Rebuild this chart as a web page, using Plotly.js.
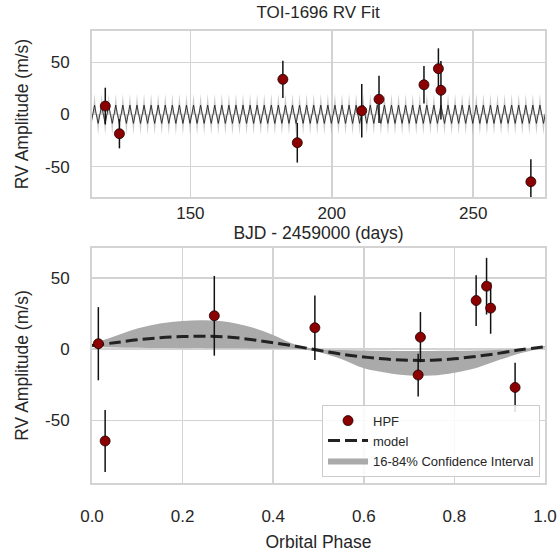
<!DOCTYPE html>
<html>
<head>
<meta charset="utf-8">
<script src="https://cdn.plot.ly/plotly-3.0.1.min.js"></script>
<style>html,body{margin:0;padding:0;background:#fff;}#chart{width:560px;height:557px;}</style>
</head>
<body>
<div id="chart"></div>
<script>
// ---- Top panel: observations ----
const obsDays = [119.9,124.9,182.7,187.8,210.6,216.7,232.6,237.7,238.6,270.4];
const obsRV   = [8.1,-18.4,33.7,-27,3.6,14.6,28.5,43.9,23.2,-64.4];
const obsErr  = [17.6,14,17.8,19,25.6,22.6,18,19.5,28,21.5];

// ---- Top panel: model curve (trough, zero, peak, zero ...) ----
const modelDays = [
114.86,115.48,116.11,116.73,117.36,117.98,118.61,119.23,119.86,120.48,121.11,121.73,122.36,122.98,123.61,124.23,
124.86,125.48,126.11,126.73,127.36,127.98,128.61,129.23,129.86,130.48,131.11,131.73,132.36,132.98,133.61,134.23,
134.86,135.48,136.11,136.73,137.36,137.98,138.61,139.23,139.86,140.48,141.11,141.73,142.36,142.98,143.61,144.23,
144.86,145.48,146.11,146.73,147.36,147.98,148.61,149.23,149.86,150.48,151.11,151.73,152.36,152.98,153.61,154.23,
154.86,155.48,156.11,156.73,157.36,157.98,158.61,159.23,159.86,160.48,161.11,161.73,162.36,162.98,163.61,164.23,
164.86,165.48,166.11,166.73,167.36,167.98,168.61,169.23,169.86,170.48,171.11,171.73,172.36,172.98,173.61,174.23,
174.86,175.48,176.11,176.73,177.36,177.98,178.61,179.23,179.86,180.48,181.11,181.73,182.36,182.98,183.61,184.23,
184.86,185.48,186.11,186.73,187.36,187.98,188.61,189.23,189.86,190.48,191.11,191.73,192.36,192.98,193.61,194.23,
194.86,195.48,196.11,196.73,197.36,197.98,198.61,199.23,199.86,200.48,201.11,201.73,202.36,202.98,203.61,204.23,
204.86,205.48,206.11,206.73,207.36,207.98,208.61,209.23,209.86,210.48,211.11,211.73,212.36,212.98,213.61,214.23,
214.86,215.48,216.11,216.73,217.36,217.98,218.61,219.23,219.86,220.48,221.11,221.73,222.36,222.98,223.61,224.23,
224.86,225.48,226.11,226.73,227.36,227.98,228.61,229.23,229.86,230.48,231.11,231.73,232.36,232.98,233.61,234.23,
234.86,235.48,236.11,236.73,237.36,237.98,238.61,239.23,239.86,240.48,241.11,241.73,242.36,242.98,243.61,244.23,
244.86,245.48,246.11,246.73,247.36,247.98,248.61,249.23,249.86,250.48,251.11,251.73,252.36,252.98,253.61,254.23,
254.86,255.48,256.11,256.73,257.36,257.98,258.61,259.23,259.86,260.48,261.11,261.73,262.36,262.98,263.61,264.23,
264.86,265.48,266.11,266.73,267.36,267.98,268.61,269.23,269.86,270.48,271.11,271.73,272.36,272.98,273.61,274.23,
274.86,275.48,276.11,276.73];
const modelRV = [
-8.5,0,9,0,-8.5,0,9,0,-8.5,0,9,0,-8.5,0,9,0,
-8.5,0,9,0,-8.5,0,9,0,-8.5,0,9,0,-8.5,0,9,0,
-8.5,0,9,0,-8.5,0,9,0,-8.5,0,9,0,-8.5,0,9,0,
-8.5,0,9,0,-8.5,0,9,0,-8.5,0,9,0,-8.5,0,9,0,
-8.5,0,9,0,-8.5,0,9,0,-8.5,0,9,0,-8.5,0,9,0,
-8.5,0,9,0,-8.5,0,9,0,-8.5,0,9,0,-8.5,0,9,0,
-8.5,0,9,0,-8.5,0,9,0,-8.5,0,9,0,-8.5,0,9,0,
-8.5,0,9,0,-8.5,0,9,0,-8.5,0,9,0,-8.5,0,9,0,
-8.5,0,9,0,-8.5,0,9,0,-8.5,0,9,0,-8.5,0,9,0,
-8.5,0,9,0,-8.5,0,9,0,-8.5,0,9,0,-8.5,0,9,0,
-8.5,0,9,0,-8.5,0,9,0,-8.5,0,9,0,-8.5,0,9,0,
-8.5,0,9,0,-8.5,0,9,0,-8.5,0,9,0,-8.5,0,9,0,
-8.5,0,9,0,-8.5,0,9,0,-8.5,0,9,0,-8.5,0,9,0,
-8.5,0,9,0,-8.5,0,9,0,-8.5,0,9,0,-8.5,0,9,0,
-8.5,0,9,0,-8.5,0,9,0,-8.5,0,9,0,-8.5,0,9,0,
-8.5,0,9,0,-8.5,0,9,0,-8.5,0,9,0,-8.5,0,9,0,
-8.5,0,9,0];
const modelLo = [
-19.5,-0.5,1,-0.5,-19.5,-0.5,1,-0.5,-19.5,-0.5,1,-0.5,-19.5,-0.5,1,-0.5,
-19.5,-0.5,1,-0.5,-19.5,-0.5,1,-0.5,-19.5,-0.5,1,-0.5,-19.5,-0.5,1,-0.5,
-19.5,-0.5,1,-0.5,-19.5,-0.5,1,-0.5,-19.5,-0.5,1,-0.5,-19.5,-0.5,1,-0.5,
-19.5,-0.5,1,-0.5,-19.5,-0.5,1,-0.5,-19.5,-0.5,1,-0.5,-19.5,-0.5,1,-0.5,
-19.5,-0.5,1,-0.5,-19.5,-0.5,1,-0.5,-19.5,-0.5,1,-0.5,-19.5,-0.5,1,-0.5,
-19.5,-0.5,1,-0.5,-19.5,-0.5,1,-0.5,-19.5,-0.5,1,-0.5,-19.5,-0.5,1,-0.5,
-19.5,-0.5,1,-0.5,-19.5,-0.5,1,-0.5,-19.5,-0.5,1,-0.5,-19.5,-0.5,1,-0.5,
-19.5,-0.5,1,-0.5,-19.5,-0.5,1,-0.5,-19.5,-0.5,1,-0.5,-19.5,-0.5,1,-0.5,
-19.5,-0.5,1,-0.5,-19.5,-0.5,1,-0.5,-19.5,-0.5,1,-0.5,-19.5,-0.5,1,-0.5,
-19.5,-0.5,1,-0.5,-19.5,-0.5,1,-0.5,-19.5,-0.5,1,-0.5,-19.5,-0.5,1,-0.5,
-19.5,-0.5,1,-0.5,-19.5,-0.5,1,-0.5,-19.5,-0.5,1,-0.5,-19.5,-0.5,1,-0.5,
-19.5,-0.5,1,-0.5,-19.5,-0.5,1,-0.5,-19.5,-0.5,1,-0.5,-19.5,-0.5,1,-0.5,
-19.5,-0.5,1,-0.5,-19.5,-0.5,1,-0.5,-19.5,-0.5,1,-0.5,-19.5,-0.5,1,-0.5,
-19.5,-0.5,1,-0.5,-19.5,-0.5,1,-0.5,-19.5,-0.5,1,-0.5,-19.5,-0.5,1,-0.5,
-19.5,-0.5,1,-0.5,-19.5,-0.5,1,-0.5,-19.5,-0.5,1,-0.5,-19.5,-0.5,1,-0.5,
-19.5,-0.5,1,-0.5,-19.5,-0.5,1,-0.5,-19.5,-0.5,1,-0.5,-19.5,-0.5,1,-0.5,
-19.5,-0.5,1,-0.5];
const modelHi = [
-1,0.5,20,0.5,-1,0.5,20,0.5,-1,0.5,20,0.5,-1,0.5,20,0.5,
-1,0.5,20,0.5,-1,0.5,20,0.5,-1,0.5,20,0.5,-1,0.5,20,0.5,
-1,0.5,20,0.5,-1,0.5,20,0.5,-1,0.5,20,0.5,-1,0.5,20,0.5,
-1,0.5,20,0.5,-1,0.5,20,0.5,-1,0.5,20,0.5,-1,0.5,20,0.5,
-1,0.5,20,0.5,-1,0.5,20,0.5,-1,0.5,20,0.5,-1,0.5,20,0.5,
-1,0.5,20,0.5,-1,0.5,20,0.5,-1,0.5,20,0.5,-1,0.5,20,0.5,
-1,0.5,20,0.5,-1,0.5,20,0.5,-1,0.5,20,0.5,-1,0.5,20,0.5,
-1,0.5,20,0.5,-1,0.5,20,0.5,-1,0.5,20,0.5,-1,0.5,20,0.5,
-1,0.5,20,0.5,-1,0.5,20,0.5,-1,0.5,20,0.5,-1,0.5,20,0.5,
-1,0.5,20,0.5,-1,0.5,20,0.5,-1,0.5,20,0.5,-1,0.5,20,0.5,
-1,0.5,20,0.5,-1,0.5,20,0.5,-1,0.5,20,0.5,-1,0.5,20,0.5,
-1,0.5,20,0.5,-1,0.5,20,0.5,-1,0.5,20,0.5,-1,0.5,20,0.5,
-1,0.5,20,0.5,-1,0.5,20,0.5,-1,0.5,20,0.5,-1,0.5,20,0.5,
-1,0.5,20,0.5,-1,0.5,20,0.5,-1,0.5,20,0.5,-1,0.5,20,0.5,
-1,0.5,20,0.5,-1,0.5,20,0.5,-1,0.5,20,0.5,-1,0.5,20,0.5,
-1,0.5,20,0.5,-1,0.5,20,0.5,-1,0.5,20,0.5,-1,0.5,20,0.5,
-1,0.5,20,0.5];

// ---- Bottom panel: phase-folded observations ----
const obsPhase  = [0.014,0.029,0.27,0.492,0.725,0.72,0.848,0.871,0.88,0.934];
const foldRV    = [3.8,-64.5,23.4,15,8.4,-18.2,34.1,44.2,28.8,-26.9];
const foldErr   = [25.7,21.7,28,22.7,17.6,15,17.8,19.9,18,17.3];

// ---- Bottom panel: phase model and confidence interval ----
const phaseGrid = [0,0.05,0.1,0.15,0.2,0.25,0.3,0.35,0.4,0.45,0.5,0.55,0.6,0.65,0.7,0.75,0.8,0.85,0.9,0.95,1.0];
const phaseModel = [2.5,4.5,6.5,8,8.8,9,8.5,6.8,4.5,2,-0.8,-3.5,-5.5,-7,-7.8,-7.8,-6.8,-5,-2.8,-0.3,1.7];
const phaseLo = [1.5,1.2,1,0.8,0.7,0.7,0.6,0.5,0.4,0.2,-2,-7,-13.5,-16.5,-18.5,-18.5,-16.5,-13,-7.5,-2.5,1.2];
const phaseHi = [3.5,9,14.5,18,19.8,20.3,19,15.5,10,3,-0.1,-0.6,-0.9,-1.1,-1.3,-1.3,-1.2,-1,-0.5,0.2,2.2];

const yTicks = [-50,0,50];
const yTickText = ['-50','0','50'];
const xTicksTop = [150,200,250];
const xTicksBot = [0,0.2,0.4,0.6,0.8,1.0];
const xTickTextBot = ['0.0','0.2','0.4','0.6','0.8','1.0'];

const FONT = 'Liberation Sans, Arial, sans-serif';
const TXT = '#262626';
const GRID = '#d3d3d3';
const TICKSIZE = 17;
const LABSIZE = 17.5;

const traces = [
  {x: modelDays, y: modelLo, xaxis:'x', yaxis:'y', mode:'lines', line:{width:0, color:'rgba(0,0,0,0)'}, hoverinfo:'skip', showlegend:false},
  {x: modelDays, y: modelHi, xaxis:'x', yaxis:'y', mode:'lines', line:{width:0, color:'rgba(0,0,0,0)'}, fill:'tonexty', fillcolor:'rgba(140,140,140,0.45)', hoverinfo:'skip', showlegend:false},
  {x: modelDays, y: modelRV, xaxis:'x', yaxis:'y', mode:'lines', line:{width:1, color:'rgba(30,30,30,0.85)'}, showlegend:false},
  {x: obsDays, y: obsRV, xaxis:'x', yaxis:'y', mode:'markers',
   error_y:{type:'data', array: obsErr, visible:true, color:'#111', thickness:1.5, width:0},
   marker:{size:10, color:'#8b0000', line:{width:0.8, color:'#1a0000'}}, showlegend:false},

  {x: phaseGrid, y: phaseLo, xaxis:'x2', yaxis:'y2', mode:'lines', line:{width:0, color:'rgba(0,0,0,0)', shape:'spline'}, hoverinfo:'skip', showlegend:false},
  {x: phaseGrid, y: phaseHi, xaxis:'x2', yaxis:'y2', mode:'lines', name:'16-84% Confidence Interval',
   line:{width:0, color:'rgba(0,0,0,0)', shape:'spline'}, fill:'tonexty', fillcolor:'#aaaaaa', legendrank:3},
  {x: phaseGrid, y: phaseModel, xaxis:'x2', yaxis:'y2', mode:'lines', name:'model',
   line:{width:3, color:'#222', dash:'12px,5px', shape:'spline'}, legendrank:2},
  {x: obsPhase, y: foldRV, xaxis:'x2', yaxis:'y2', mode:'markers', name:'HPF',
   error_y:{type:'data', array: foldErr, visible:true, color:'#111', thickness:1.5, width:0},
   marker:{size:10, color:'#8b0000', line:{width:0.8, color:'#1a0000'}}, legendrank:1}
];

const axisCommon = {
  showgrid:true, gridcolor:GRID, gridwidth:1.5, zeroline:false,
  showline:true, mirror:true, linecolor:GRID, linewidth:2,
  ticks:'', tickfont:{family:FONT, size:TICKSIZE, color:TXT}
};
const labFont = {family:FONT, size:LABSIZE, color:TXT};

const layout = {
  width:560, height:557,
  margin:{l:92, r:15, t:31, b:74},
  paper_bgcolor:'#fff', plot_bgcolor:'#fff',
  font:{family:FONT, color:TXT},
  title:{text:'TOI-1696 RV Fit', font:{family:FONT, size:17, color:TXT}, x:0.568, xanchor:'center', y:0.978, yanchor:'middle', yref:'container'},
  xaxis: Object.assign({}, axisCommon, {domain:[0,1], anchor:'y', range:[115.2,275.4], tickvals:xTicksTop, ticklabelstandoff:0,
    title:{text:'BJD - 2459000 (days)', font:labFont, standoff:0}}),
  yaxis: Object.assign({}, axisCommon, {domain:[0.6327,1], anchor:'x', range:[-79,80], tickvals:yTicks, ticktext:yTickText, ticklabelstandoff:17,
    title:{text:'RV Amplitude (m/s)', font:labFont, standoff:12}}),
  xaxis2: Object.assign({}, axisCommon, {domain:[0,1], anchor:'y2', range:[0,1], tickvals:xTicksBot, ticktext:xTickTextBot, ticklabelstandoff:17,
    title:{text:'Orbital Phase', font:labFont, standoff:10}}),
  yaxis2: Object.assign({}, axisCommon, {domain:[0,0.5199], anchor:'x2', range:[-94,71], tickvals:yTicks, ticktext:yTickText, ticklabelstandoff:17,
    title:{text:'RV Amplitude (m/s)', font:labFont, standoff:12}}),
  legend:{x:0.989, xanchor:'right', y:0.014, yanchor:'bottom', xref:'paper', yref:'paper',
    bgcolor:'rgba(255,255,255,0.85)', bordercolor:'#cccccc', borderwidth:1,
    font:{family:FONT, size:13, color:TXT}, traceorder:'normal', tracegroupgap:0, itemwidth:40},
  showlegend:true
};

Plotly.newPlot('chart', traces, layout, {displayModeBar:false, staticPlot:true});
</script>
</body>
</html>
